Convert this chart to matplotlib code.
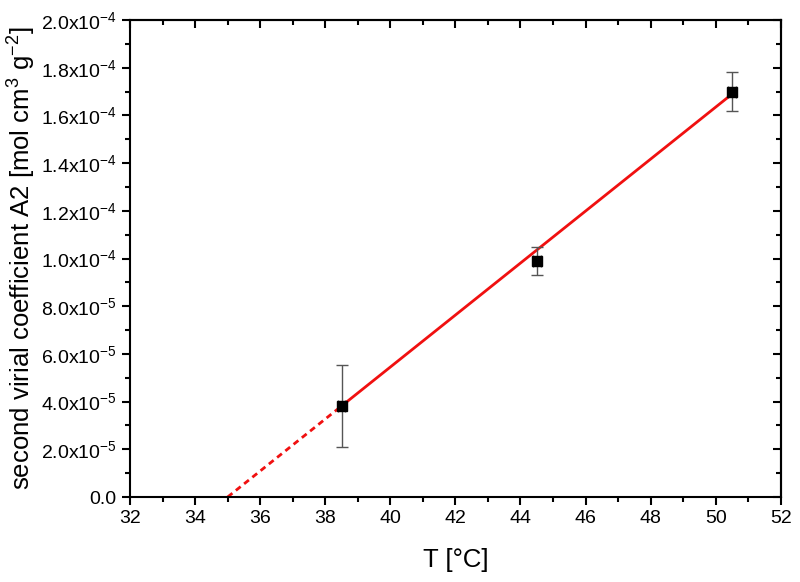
import matplotlib
matplotlib.use("Agg")
import matplotlib.pyplot as plt
from matplotlib.ticker import MultipleLocator, FuncFormatter
import math

plt.rcParams['font.family'] = ['Liberation Sans', 'DejaVu Sans']
plt.rcParams['mathtext.fontset'] = 'custom'
plt.rcParams['mathtext.rm'] = 'Liberation Sans'
plt.rcParams['mathtext.it'] = 'Liberation Sans'

T = [38.5, 44.5, 50.5]
A2 = [3.8e-5, 9.9e-5, 1.70e-4]
A2_err = [1.72e-5, 0.6e-5, 0.8e-5]
T_err = [0.12, 0.12, 0.12]

fit_x_dash = [35.0, 38.5]
fit_x_solid = [38.5, 50.5]
slope = 1.09e-5
T0 = 35.0

fig = plt.figure(figsize=(8.0, 5.82), dpi=100)
ax = fig.add_axes([0.1625, 0.146, 0.8135, 0.8196])

ax.plot(fit_x_solid, [slope * (x - T0) for x in fit_x_solid], color='#f01010', lw=2.0, zorder=2)
ax.plot(fit_x_dash, [slope * (x - T0) for x in fit_x_dash], color='#f01010', lw=2.0, ls=(0, (2.2, 1.6)), zorder=2)

ax.errorbar(T, A2, yerr=A2_err, xerr=T_err, fmt='s', color='black', ms=7.5,
            ecolor='#555555', elinewidth=1.0, capsize=4, capthick=1.0, zorder=3)

ax.set_xlim(32, 52)
ax.set_ylim(0, 2.0e-4)
ax.xaxis.set_major_locator(MultipleLocator(2))
ax.xaxis.set_minor_locator(MultipleLocator(1))
ax.yaxis.set_major_locator(MultipleLocator(2e-5))
ax.yaxis.set_minor_locator(MultipleLocator(1e-5))

def yfmt(v, pos):
    if abs(v) < 1e-12:
        return '0.0'
    e = int(math.floor(math.log10(abs(v)) + 1e-9))
    m = v / 10**e
    return r'%.1fx10$^{%d}$' % (m, e)

ax.yaxis.set_major_formatter(FuncFormatter(yfmt))

for s in ax.spines.values():
    s.set_linewidth(1.5)

ax.tick_params(which='both', direction='out', width=1.5, labelsize=14, top=False, right=False)
ax.tick_params(which='major', length=6)
ax.tick_params(which='minor', length=3.5)

ax2 = ax.secondary_xaxis('top')
ax2.xaxis.set_major_locator(MultipleLocator(2))
ax2.xaxis.set_minor_locator(MultipleLocator(1))
ax2.tick_params(which='both', direction='in', width=1.5, labeltop=False)
ax2.tick_params(which='major', length=6)
ax2.tick_params(which='minor', length=3.5)
ax2.spines['top'].set_linewidth(1.5)
ax3 = ax.secondary_yaxis('right')
ax3.yaxis.set_major_locator(MultipleLocator(2e-5))
ax3.yaxis.set_minor_locator(MultipleLocator(1e-5))
ax3.tick_params(which='both', direction='in', width=1.5, labelright=False)
ax3.tick_params(which='major', length=6)
ax3.tick_params(which='minor', length=3.5)
ax3.spines['right'].set_linewidth(1.5)

ax.set_xlabel('T [°C]', fontsize=18.5, labelpad=15)
ax.set_ylabel('second virial coefficient A2 [mol cm$^{3}$ g$^{-2}$]', fontsize=18.5, labelpad=2)

fig.savefig('out.png', dpi=100)
